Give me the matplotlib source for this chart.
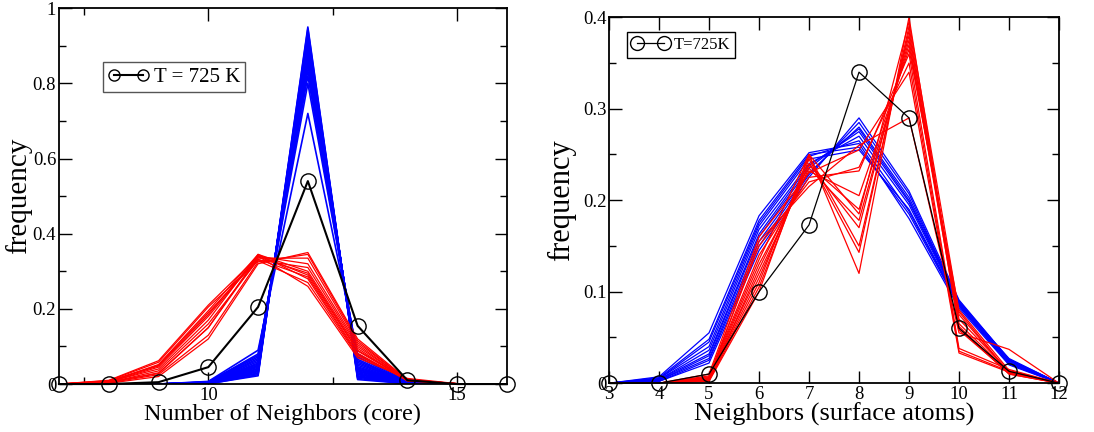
import numpy as np
import matplotlib.pyplot as plt
from matplotlib.lines import Line2D
from matplotlib.ticker import MultipleLocator

plt.rcParams['font.family'] = ['Liberation Serif', 'DejaVu Serif']

# ---- left panel: core atoms ----
x_core = [7, 8, 9, 10, 11, 12, 13, 14, 15, 16]

core_blue = [
    [0, 0, 0, 0.001, 0.022, 0.950, 0.012, 0.001, 0, 0],
    [0, 0, 0, 0.000, 0.025, 0.945, 0.015, 0.001, 0, 0],
    [0, 0, 0, 0.002, 0.028, 0.935, 0.018, 0.001, 0, 0],
    [0, 0, 0, 0.001, 0.030, 0.930, 0.020, 0.002, 0, 0],
    [0, 0, 0, 0.002, 0.033, 0.925, 0.022, 0.001, 0, 0],
    [0, 0, 0, 0.001, 0.035, 0.920, 0.025, 0.002, 0, 0],
    [0, 0, 0, 0.002, 0.037, 0.915, 0.027, 0.002, 0, 0],
    [0, 0, 0, 0.003, 0.040, 0.910, 0.030, 0.001, 0, 0],
    [0, 0, 0, 0.002, 0.042, 0.905, 0.033, 0.002, 0, 0],
    [0, 0, 0, 0.003, 0.045, 0.900, 0.035, 0.002, 0, 0],
    [0, 0, 0, 0.002, 0.048, 0.895, 0.038, 0.003, 0, 0],
    [0, 0, 0, 0.003, 0.050, 0.890, 0.040, 0.002, 0, 0],
    [0, 0, 0, 0.004, 0.053, 0.885, 0.043, 0.003, 0, 0],
    [0, 0, 0, 0.003, 0.056, 0.878, 0.046, 0.003, 0, 0],
    [0, 0, 0, 0.004, 0.060, 0.870, 0.050, 0.003, 0, 0],
    [0, 0, 0, 0.005, 0.064, 0.860, 0.054, 0.004, 0, 0],
    [0, 0, 0, 0.004, 0.068, 0.850, 0.058, 0.003, 0, 0],
    [0, 0, 0, 0.005, 0.072, 0.835, 0.062, 0.004, 0, 0],
    [0, 0, 0, 0.006, 0.076, 0.820, 0.066, 0.004, 0, 0],
    [0, 0, 0, 0.005, 0.080, 0.800, 0.072, 0.005, 0, 0],
    [0, 0, 0, 0.007, 0.090, 0.720, 0.080, 0.006, 0, 0],
]

core_red = [
    [0, 0.002, 0.020, 0.120, 0.320, 0.350, 0.120, 0.012, 0.001, 0],
    [0, 0.003, 0.025, 0.130, 0.325, 0.345, 0.115, 0.010, 0.001, 0],
    [0, 0.004, 0.030, 0.150, 0.335, 0.335, 0.110, 0.011, 0.000, 0],
    [0, 0.005, 0.028, 0.150, 0.340, 0.320, 0.105, 0.009, 0.001, 0],
    [0, 0.004, 0.035, 0.160, 0.330, 0.310, 0.100, 0.010, 0.000, 0],
    [0, 0.006, 0.040, 0.170, 0.345, 0.300, 0.095, 0.008, 0.001, 0],
    [0, 0.005, 0.045, 0.180, 0.338, 0.295, 0.090, 0.012, 0.000, 0],
    [0, 0.007, 0.048, 0.185, 0.342, 0.290, 0.088, 0.010, 0.001, 0],
    [0, 0.008, 0.050, 0.190, 0.332, 0.285, 0.082, 0.009, 0.000, 0],
    [0, 0.006, 0.052, 0.195, 0.345, 0.280, 0.078, 0.011, 0.001, 0],
    [0, 0.009, 0.058, 0.205, 0.328, 0.270, 0.075, 0.013, 0.000, 0],
    [0, 0.010, 0.062, 0.210, 0.340, 0.260, 0.070, 0.015, 0.001, 0],
]

core_black = [0, 0, 0.005, 0.045, 0.205, 0.54, 0.155, 0.01, 0, 0]

# ---- right panel: surface atoms ----
x_surf = [3, 4, 5, 6, 7, 8, 9, 10, 11, 12]

surf_blue = [
    [0, 0.007, 0.055, 0.183, 0.252, 0.262, 0.180, 0.082, 0.020, 0],
    [0, 0.006, 0.048, 0.178, 0.250, 0.258, 0.185, 0.084, 0.021, 0],
    [0, 0.005, 0.045, 0.175, 0.248, 0.265, 0.188, 0.085, 0.022, 0],
    [0, 0.005, 0.040, 0.172, 0.245, 0.255, 0.190, 0.086, 0.023, 0],
    [0, 0.004, 0.036, 0.168, 0.240, 0.270, 0.195, 0.087, 0.024, 0],
    [0, 0.004, 0.032, 0.163, 0.238, 0.275, 0.198, 0.088, 0.025, 0],
    [0, 0.003, 0.030, 0.160, 0.235, 0.278, 0.200, 0.089, 0.025, 0],
    [0, 0.003, 0.027, 0.155, 0.230, 0.280, 0.203, 0.090, 0.026, 0],
    [0, 0.002, 0.025, 0.150, 0.228, 0.285, 0.207, 0.088, 0.027, 0],
    [0, 0.002, 0.022, 0.145, 0.225, 0.290, 0.210, 0.091, 0.026, 0],
]

surf_red = [
    [0, 0, 0.002, 0.100, 0.250, 0.120, 0.400, 0.060, 0.010, 0],
    [0, 0, 0.003, 0.105, 0.245, 0.143, 0.390, 0.065, 0.012, 0],
    [0, 0, 0.004, 0.110, 0.248, 0.150, 0.385, 0.058, 0.011, 0],
    [0, 0, 0.005, 0.115, 0.240, 0.170, 0.380, 0.070, 0.013, 0],
    [0, 0, 0.006, 0.120, 0.235, 0.178, 0.375, 0.062, 0.010, 0],
    [0, 0, 0.003, 0.125, 0.238, 0.190, 0.370, 0.075, 0.012, 0],
    [0, 0, 0.005, 0.130, 0.232, 0.205, 0.365, 0.080, 0.014, 0],
    [0, 0, 0.007, 0.140, 0.225, 0.232, 0.360, 0.038, 0.015, 0],
    [0, 0, 0.008, 0.150, 0.220, 0.236, 0.350, 0.035, 0.013, 0],
    [0, 0, 0.004, 0.155, 0.215, 0.260, 0.290, 0.055, 0.037, 0],
    [0, 0, 0.010, 0.160, 0.230, 0.255, 0.340, 0.033, 0.012, 0],
    [0, 0, 0.006, 0.135, 0.250, 0.185, 0.395, 0.078, 0.011, 0],
]

surf_black = [0, 0, 0.01, 0.1, 0.173, 0.34, 0.29, 0.06, 0.013, 0]


fig = plt.figure(figsize=(10.94, 4.32), dpi=100)
ax1 = fig.add_axes([0.0539, 0.111, 0.4095, 0.870])
ax2 = fig.add_axes([0.5567, 0.113, 0.4113, 0.847])


def style_axes(ax):
    for s in ax.spines.values():
        s.set_linewidth(1.3)
    ax.tick_params(which='both', direction='in', top=True, right=True,
                   labelsize=13.5, pad=2)
    ax.tick_params(which='major', length=9, width=1)
    ax.tick_params(which='minor', length=5, width=1)


# left
for y in core_blue:
    ax1.plot(x_core, y, color='blue', lw=1.2)
for y in core_red:
    ax1.plot(x_core, y, color='red', lw=0.9)
ax1.plot(x_core, core_black, color='black', lw=1.5, marker='o',
         mfc='none', mec='black', ms=11, mew=1.0, clip_on=False, zorder=5)
ax1.set_xlim(7, 16)
ax1.set_ylim(0, 1)
ax1.xaxis.set_major_locator(MultipleLocator(5))
ax1.xaxis.set_minor_locator(MultipleLocator(2.5))
ax1.yaxis.set_minor_locator(MultipleLocator(0.1))
ax1.set_yticks([0, 0.2, 0.4, 0.6, 0.8, 1.0])
ax1.set_yticklabels(['0', '0.2', '0.4', '0.6', '0.8', '1'])
style_axes(ax1)
ax1.set_xlabel('Number of Neighbors (core)', fontsize=17.5, labelpad=0)
ax1.set_ylabel('frequency', fontsize=21)
ax1.yaxis.set_label_coords(-0.06, 0.5)
h1 = Line2D([], [], color='black', lw=1.5, marker='o', mfc='none',
            mec='black', ms=8)
ax1.legend([h1], ['T = 725 K'], loc='upper left', bbox_to_anchor=(0.098, 0.856),
           borderaxespad=0, fancybox=False, edgecolor='#555555', framealpha=1,
           fontsize=15, numpoints=2, handlelength=2.0, handletextpad=0.2,
           borderpad=0.25)

# right
for y in surf_blue:
    ax2.plot(x_surf, y, color='blue', lw=0.9)
for y in surf_red:
    ax2.plot(x_surf, y, color='red', lw=0.9)
ax2.plot(x_surf, surf_black, color='black', lw=0.9, marker='o',
         mfc='none', mec='black', ms=11, mew=1.0, clip_on=False, zorder=5)
ax2.set_xlim(3, 12)
ax2.set_ylim(0, 0.4)
ax2.xaxis.set_major_locator(MultipleLocator(1))
ax2.yaxis.set_minor_locator(MultipleLocator(0.05))
ax2.set_yticks([0, 0.1, 0.2, 0.3, 0.4])
ax2.set_yticklabels(['0', '0.1', '0.2', '0.3', '0.4'])
style_axes(ax2)
ax2.set_xlabel('Neighbors (surface atoms)', fontsize=19, labelpad=0)
ax2.set_ylabel('frequency', fontsize=22)
ax2.yaxis.set_label_coords(-0.073, 0.5)
h2 = Line2D([], [], color='black', lw=0.9, marker='o', mfc='none',
            mec='black', ms=10)
ax2.legend([h2], ['T=725K'], loc='upper left', bbox_to_anchor=(0.04, 0.959),
           borderaxespad=0, fancybox=False, edgecolor='black', framealpha=1,
           fontsize=12, numpoints=2, handlelength=2.2, handletextpad=0.3,
           borderpad=0.3)

fig.savefig('out.png', dpi=100)
